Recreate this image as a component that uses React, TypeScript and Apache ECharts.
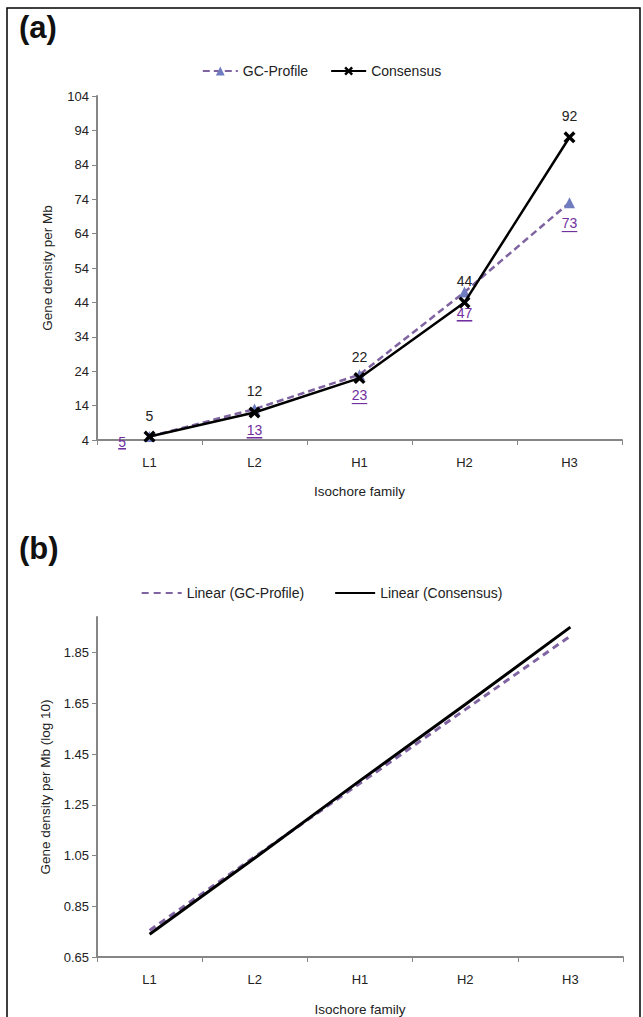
import React, { useEffect, useRef } from "react";
import * as echarts from "echarts";

const categories = ["L1", "L2", "H1", "H2", "H3"];
const gcProfile = [5, 13, 23, 47, 73];
const consensus = [5, 12, 22, 44, 92];
const gcTrendLog = [0.755, 1.045, 1.335, 1.625, 1.915];
const consTrendLog = [0.74, 1.04, 1.345, 1.645, 1.95];
const aMin = 4;
const aMax = 104;
const aStep = 10;
const bMin = 0.65;
const bMax = 1.99;
const bStep = 0.2;

const FONT = "Liberation Sans, Arial, sans-serif";
const PURPLE = "#8064A2";
const LINKPURPLE = "#7030A0";
const AXIS = "#868686";
const XSYM = "path://M0,2L2,0L5,3L8,0L10,2L7,5L10,8L8,10L5,7L2,10L0,8L3,5Z";

export default function App() {
  const ref = useRef<HTMLDivElement>(null);
  useEffect(() => {
    if (!ref.current) return;
    const chart = echarts.init(ref.current, null, { renderer: "svg" });
    const underlineBg = new echarts.graphic.LinearGradient(0, 0, 0, 1, [
      { offset: 0, color: "rgba(255,255,255,0)" },
      { offset: 0.9, color: "rgba(255,255,255,0)" },
      { offset: 0.9, color: LINKPURPLE },
      { offset: 1, color: LINKPURPLE },
    ]);
    const axisCommon = {
      axisLine: { show: true, lineStyle: { color: AXIS, width: 2 } },
      axisTick: { show: true, length: 5, lineStyle: { color: AXIS, width: 1 } },
      splitLine: { show: false },
      axisLabel: { color: "#222", fontSize: 13, fontFamily: FONT },
      nameTextStyle: { color: "#222", fontSize: 13.5, fontFamily: FONT },
    };
    const xAxisCommon = {
      ...axisCommon,
      type: "category",
      data: categories,
      boundaryGap: true,
      axisTick: { show: true, length: 5, interval: 0, lineStyle: { color: AXIS, width: 1 } },
      axisLabel: { color: "#222", fontSize: 13, fontFamily: FONT, margin: 16 },
      name: "Isochore family",
      nameLocation: "middle",
    };
    chart.setOption({
      animation: false,
      backgroundColor: "#fff",
      textStyle: { fontFamily: FONT },
      graphic: [
        { type: "rect", shape: { x: 7, y: 8, width: 633, height: 1030 }, style: { fill: "none", stroke: "#000", lineWidth: 1.5 }, silent: true },
        { type: "text", left: 19, top: 12, style: { text: "(a)", font: `bold 31px ${FONT}`, fill: "#111" } },
        { type: "text", left: 19, top: 533, style: { text: "(b)", font: `bold 31px ${FONT}`, fill: "#111" } },
      ],
      legend: [
        {
          data: ["GC-Profile", "Consensus"],
          top: 59,
          left: "center",
          itemWidth: 35,
          itemHeight: 11,
          itemGap: 22,
          textStyle: { color: "#222", fontSize: 14, fontFamily: FONT },
        },
        {
          data: ["Linear (GC-Profile)", "Linear (Consensus)"],
          top: 581,
          left: "center",
          itemWidth: 40,
          itemHeight: 11,
          itemGap: 30,
          itemStyle: { opacity: 0 },
          textStyle: { color: "#222", fontSize: 14, fontFamily: FONT },
        },
      ],
      grid: [
        { left: 97, top: 96, width: 525, height: 344 },
        { left: 97, top: 617, width: 526, height: 348 },
      ],
      xAxis: [
        { ...xAxisCommon, gridIndex: 0, nameGap: 44 },
        { ...xAxisCommon, gridIndex: 1, nameGap: 45 },
      ],
      yAxis: [
        {
          ...axisCommon,
          type: "value",
          gridIndex: 0,
          min: 0,
          max: aMax - aMin,
          interval: aStep,
          axisLabel: { ...axisCommon.axisLabel, margin: 8, formatter: (v: number) => String(Math.round(v + aMin)) },
          name: "Gene density per Mb",
          nameLocation: "middle",
          nameGap: 43,
        },
        {
          ...axisCommon,
          type: "value",
          gridIndex: 1,
          min: 0,
          max: bMax - bMin,
          interval: bStep,
          axisLabel: {
            ...axisCommon.axisLabel,
            margin: 8,
            formatter: (v: number) => (v + bMin).toFixed(2),
            showMaxLabel: false,
          },
          name: "Gene density per Mb (log 10)",
          nameLocation: "middle",
          nameGap: 43,
        },
      ],
      series: [
        {
          name: "GC-Profile",
          type: "line",
          xAxisIndex: 0,
          yAxisIndex: 0,
          data: gcProfile.map((v, i) => ({
            value: v - aMin,
            label: i === 0 ? { position: "left", distance: 18, offset: [0, 5] } : undefined,
          })),
          symbol: "triangle",
          symbolSize: 11,
          itemStyle: { color: "#6F7CC0" },
          lineStyle: { color: PURPLE, width: 2.5, type: [7, 4] },
          label: {
            show: true,
            position: "bottom",
            distance: 8,
            color: LINKPURPLE,
            fontSize: 14,
            fontFamily: FONT,
            padding: [0, 0, 2, 0],
            backgroundColor: underlineBg,
            formatter: (p: any) => String(gcProfile[p.dataIndex]),
          },
          z: 2,
        },
        {
          name: "Consensus",
          type: "line",
          xAxisIndex: 0,
          yAxisIndex: 0,
          data: consensus.map((v) => v - aMin),
          symbol: XSYM,
          symbolSize: 12,
          itemStyle: { color: "#000" },
          lineStyle: { color: "#000", width: 2.5 },
          label: {
            show: true,
            position: "top",
            distance: 8,
            color: "#222",
            fontSize: 14,
            fontFamily: FONT,
            formatter: (p: any) => String(consensus[p.dataIndex]),
          },
          z: 3,
        },
        {
          name: "Linear (GC-Profile)",
          type: "line",
          xAxisIndex: 1,
          yAxisIndex: 1,
          data: gcTrendLog.map((v) => v - bMin),
          symbol: "none",
          itemStyle: { color: PURPLE },
          lineStyle: { color: PURPLE, width: 3, type: [7, 5] },
          z: 2,
        },
        {
          name: "Linear (Consensus)",
          type: "line",
          xAxisIndex: 1,
          yAxisIndex: 1,
          data: consTrendLog.map((v) => v - bMin),
          symbol: "none",
          itemStyle: { color: "#000" },
          lineStyle: { color: "#000", width: 3 },
          z: 3,
        },
      ],
    });
    return () => chart.dispose();
  }, []);
  return (
    <div
      ref={ref}
      style={{ position: "absolute", left: 0, top: 0, width: 643, height: 1017, background: "#fff" }}
    />
  );
}
